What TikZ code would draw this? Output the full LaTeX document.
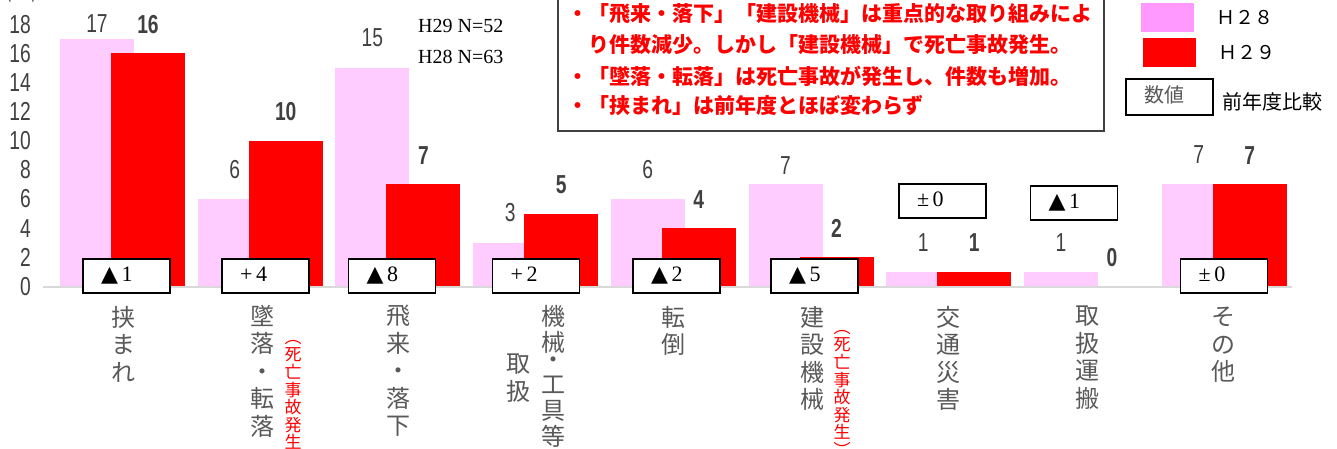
\documentclass[tikz,border=0pt]{standalone}
\usepackage{fontspec}
\setmainfont{Liberation Serif}
\newfontfamily\jpfont{Noto Sans CJK JP}
\newfontfamily\numfont{Liberation Sans}[FakeStretch=0.74]
\newfontfamily\symfont{DejaVu Sans}
\usetikzlibrary{positioning}
\definecolor{barpink}{HTML}{FFCCFF}
\definecolor{keypink}{HTML}{FF99FF}
\definecolor{catgray}{HTML}{595959}
\definecolor{valgray}{HTML}{404040}
\definecolor{axisgray}{HTML}{D9D9D9}
\tikzset{
  Bar28/.style={fill=barpink},
  Bar29/.style={fill=red},
  Diff/.style={draw, fill=white, line width=1.2pt, minimum height=34pt, inner xsep=18pt, inner ysep=0pt,
    text width=51pt, align=left, text height=1em, text depth=0pt, font=\fontsize{22}{22}\selectfont},
  Val28/.style={font=\numfont\fontsize{26}{26}\selectfont, text=valgray},
  Val29/.style={font=\numfont\bfseries\fontsize{26}{26}\selectfont, text=valgray},
  Tick/.style={font=\numfont\fontsize{26}{26}\selectfont, text=valgray, anchor=east, inner sep=0pt},
  Cat/.style={font=\jpfont\fontsize{24}{27.5}\selectfont, text=catgray, align=center, anchor=north, inner sep=0pt},
  Fatal/.style={font=\jpfont\fontsize{17}{17.6}\selectfont, text=red, align=center, anchor=north, inner sep=0pt},
  Note/.style={font=\jpfont\bfseries\fontsize{21}{21}\selectfont, text=red, anchor=west, inner sep=0pt},
  Key/.style={font=\jpfont\fontsize{19}{19}\selectfont, inner sep=0pt}
}
\newcommand{\tri}{{\symfont ▲}}

\begin{document}
\begin{tikzpicture}[x=1pt,y=-1pt]
  \useasboundingbox (0,0) rectangle (1337,448);

  % bars and values
  \foreach \i/\va/\vb/\ya in {1/17/16/24, 2/6/10/170, 3/15/7/38, 4/3/5/213, 5/6/4/170,
                              6/7/2/166, 7/1/1/243, 8/1/0/243, 9/7/7/155} {
    \pgfmathsetmacro\cx{122.5+137.7*(\i-1)}
    \fill[Bar28] (\cx-62.5,286.5) rectangle (\cx+11.5,286.5-14.58*\va);
    \fill[Bar29] (\cx-11.5,286.5) rectangle (\cx+62.5,286.5-14.58*\vb);
    \node[Val28] (v28-\i) at (\cx-25.5,\ya) {\va};
    \node[Val29] (v29-\i) at (\cx+25.5,286.5-14.58*\vb-29) {\vb};
  }

  % axis
  \foreach \v in {0,2,...,18}
    \node[Tick] (t\v) at (31,286.5-14.58*\v) {\v};
  \node[font=\jpfont\fontsize{20}{20}\selectfont, text=catgray, anchor=south, inner sep=0pt] (unit) at (22,3) {(件)};
  \coordinate (ax0) at (43,287);
  \coordinate (ax1) at (1292,287);
  \draw[axisgray, line width=2pt] (ax0) -- (ax1);

  % change against last year
  \node[Diff] (d1) at (126.5,276) {\tri\,1};
  \node[Diff] (d2) at (265.5,276) {+\,4};
  \node[Diff] (d3) at (392,276)   {\tri\,8};
  \node[Diff] (d4) at (536,276)   {+\,2};
  \node[Diff] (d5) at (676.5,276) {\tri\,2};
  \node[Diff] (d6) at (814.5,276) {\tri\,5};
  \node[Diff] (d7) at (942.5,201) {±\,0};
  \node[Diff] (d8) at (1074,203)  {\tri\,1};
  \node[Diff] (d9) at (1224,276)  {±\,0};

  % categories
  \node[Cat]   (c1)  at (123,306)  {挟\\ま\\れ};
  \node[Cat]   (c2)  at (262,305)  {墜\\落\\・\\転\\落};
  \node[Fatal] (f2)  at (293,340)  {︵\\死\\亡\\事\\故\\発\\生\\︶};
  \node[Cat]   (c3)  at (398,305)  {飛\\来\\・\\落\\下};
  \node[Cat]   (c4a) at (518,354)  {取\\扱};
  \node[Cat, font=\jpfont\fontsize{24}{26}\selectfont] (c4b) at (553,305) {機\\械\\[-9pt]・\\[-1pt]工\\具\\等};
  \node[Cat]   (c5)  at (673,306)  {転\\倒};
  \node[Cat]   (c6)  at (812,306)  {建\\設\\機\\械};
  \node[Fatal] (f6)  at (842,330)  {︵\\死\\亡\\事\\故\\発\\生\\︶};
  \node[Cat]   (c7)  at (948,306)  {交\\通\\災\\害};
  \node[Cat]   (c8)  at (1087,306) {取\\扱\\運\\搬};
  \node[Cat]   (c9)  at (1223,307) {そ\\の\\他};

  % totals
  \node[anchor=west, inner sep=0pt, font=\fontsize{20}{20}\selectfont] (n29) at (418,26) {H29 N=52};
  \node[anchor=west, inner sep=0pt, font=\fontsize{20}{20}\selectfont] (n28) at (418,57) {H28 N=63};

  % remarks
  \draw[valgray, line width=1.5pt] (558,-10) rectangle (1104,131);
  \node[Note] (r1) at (567,14)  {・「飛来・落下」「建設機械」は重点的な取り組みによ};
  \node[Note] (r2) at (588,45)  {り件数減少。しかし「建設機械」で死亡事故発生。};
  \node[Note] (r3) at (567,76)  {・「墜落・転落」は死亡事故が発生し、件数も増加。};
  \node[Note] (r4) at (567,106) {・「挟まれ」は前年度とほぼ変わらず};

  % legend
  \node[fill=keypink, minimum width=53pt, minimum height=29pt, inner sep=0pt] (k28) at (1167.5,17.5) {};
  \node[fill=red, minimum width=53pt, minimum height=29pt, inner sep=0pt] (k29) at (1169.5,52.5) {};
  \node[Key, right=22pt of k28] (l28) {Ｈ２８};
  \node[Key, right=22pt of k29] (l29) {Ｈ２９};
  \node[Diff, minimum height=36pt, text=catgray, font=\jpfont\fontsize{20}{20}\selectfont] (kbox) at (1169.5,97) {数値};
  \node[right=9pt of kbox, inner sep=0pt, yshift=-5pt, font=\jpfont\fontsize{20}{20}\selectfont] (lbox) {前年度比較};
\end{tikzpicture}
\end{document}
